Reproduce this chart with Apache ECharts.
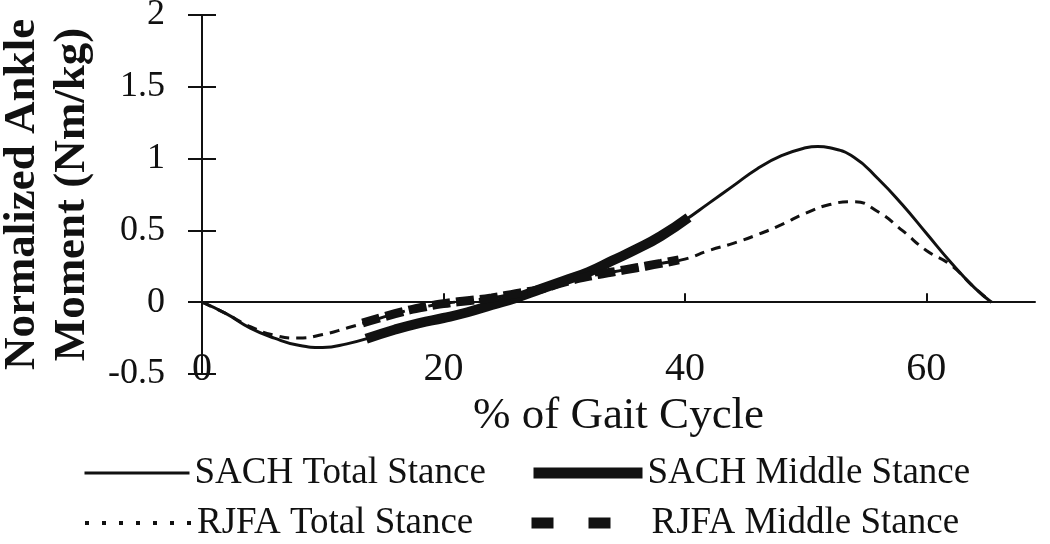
<!DOCTYPE html>
<html>
<head>
<meta charset="utf-8">
<script src="https://cdn.jsdelivr.net/npm/echarts@6/dist/echarts.min.js"></script>
<style>
  html, body { margin: 0; padding: 0; background: #fff; }
  #main { width: 1050px; height: 544px; }
</style>
</head>
<body>
<div id="main"></div>
<script>
// values: [% of gait cycle, moment Nm/kg]
var sachTotal = [
  [0, 0], [2, -0.08], [4, -0.18], [6, -0.25], [8, -0.3], [10, -0.315], [12, -0.29],
  [14, -0.245], [16, -0.19], [18, -0.145], [20, -0.11], [22, -0.07], [24, -0.02],
  [26, 0.03], [28, 0.09], [30, 0.15], [32, 0.21], [34, 0.29], [36, 0.37], [38, 0.46],
  [40, 0.57], [42, 0.69], [44, 0.81], [46, 0.93], [48, 1.02], [50, 1.075], [51, 1.085],
  [52, 1.075], [54, 1.01], [56, 0.86], [58, 0.68], [60, 0.48], [62, 0.28], [64, 0.1], [65.4, 0]
];
var sachMiddle = [
  [13.6, -0.255], [16, -0.19], [18, -0.145], [20, -0.11], [22, -0.07], [24, -0.02],
  [26, 0.03], [28, 0.09], [30, 0.15], [32, 0.21], [34, 0.29], [36, 0.37], [38, 0.46],
  [40.3, 0.59]
];
var rjfaTotal = [
  [0, 0], [2, -0.08], [4, -0.17], [6, -0.23], [8, -0.25], [10, -0.225], [12, -0.18],
  [14, -0.13], [16, -0.08], [18, -0.04], [20, -0.01], [22, 0.01], [24, 0.03],
  [26, 0.06], [28, 0.09], [30, 0.14], [32, 0.18], [34, 0.21], [36, 0.24], [38, 0.27],
  [40, 0.3], [42, 0.36], [44, 0.41], [46, 0.47], [48, 0.54], [50, 0.62], [52, 0.68],
  [54, 0.7], [56, 0.63], [58, 0.5], [60, 0.36], [62, 0.26], [64, 0.1], [65.4, 0]
];
var rjfaMiddle = [
  [13.3, -0.145], [16, -0.08], [18, -0.04], [20, -0.01], [22, 0.01], [24, 0.03],
  [26, 0.06], [28, 0.09], [30, 0.14], [32, 0.18], [34, 0.21], [36, 0.24], [38, 0.27],
  [39.5, 0.295]
];
var xTicks = [0, 20, 40, 60];
var seriesNames = ['SACH Total Stance', 'SACH Middle Stance', 'RJFA Total Stance', 'RJFA Middle Stance'];

var font = 'Liberation Serif';

var chart = echarts.init(document.getElementById('main'));

function legendAt(name, left, top, w, lineStyle) {
  return {
    left: left, top: top, data: [name],
    itemWidth: w, itemHeight: 12,
    lineStyle: lineStyle,
    itemStyle: { opacity: 0 },
    textStyle: { fontFamily: font, fontSize: 37, color: '#111', lineHeight: 40 },
    selectedMode: false
  };
}

var option = {
  animation: false,
  backgroundColor: '#fff',
  grid: { left: 202, right: 15, top: 15, bottom: 170, outerBoundsMode: 'none' },
  legend: [
    legendAt(seriesNames[0], 78, 448, 105, { width: 3, type: 'solid' }),
    legendAt(seriesNames[1], 523, 448, 109, { width: 11, type: 'solid' }),
    legendAt(seriesNames[2], 78, 498, 107, { width: 4, type: [4, 13] }),
    legendAt(seriesNames[3], 521, 498, 115, { width: 11, type: [22, 35, 22, 100] })
  ],
  xAxis: {
    type: 'value', min: 0, max: 69,
    name: '% of Gait Cycle', nameLocation: 'middle', nameGap: 7,
    nameTextStyle: { fontFamily: font, fontSize: 45, color: '#111' },
    axisLine: { onZero: true, lineStyle: { color: '#111', width: 2 } },
    axisTick: { inside: true, length: 9, customValues: xTicks, lineStyle: { color: '#111', width: 2 } },
    axisLabel: { customValues: xTicks, margin: -25, fontFamily: font, fontSize: 40, color: '#111' },
    splitLine: { show: false }
  },
  yAxis: [{
    type: 'value', min: -0.5, max: 2, interval: 0.5,
    name: 'Normalized Ankle\nMoment (Nm/kg)', nameLocation: 'middle', nameGap: 102,
    nameTextStyle: { fontFamily: font, fontSize: 45, fontWeight: 'bold', color: '#111', lineHeight: 50 },
    axisLine: { show: true, onZero: false, lineStyle: { color: '#111', width: 2 } },
    axisTick: { show: true, length: 14, lineStyle: { color: '#111', width: 2 } },
    axisLabel: { margin: 37, fontFamily: font, fontSize: 36, color: '#111' },
    splitLine: { show: false }
  }, {
    type: 'value', min: -0.5, max: 2, interval: 0.5, position: 'left',
    axisLine: { show: false },
    axisTick: { show: true, inside: true, length: 14, lineStyle: { color: '#111', width: 2 } },
    axisLabel: { show: false },
    splitLine: { show: false }
  }],
  series: [{
    name: seriesNames[0], type: 'line', data: sachTotal, smooth: true,
    symbol: 'none', lineStyle: { color: '#111', width: 3 }, itemStyle: { color: '#111' }, z: 2
  }, {
    name: seriesNames[2], type: 'line', data: rjfaTotal, smooth: true,
    symbol: 'none', lineStyle: { color: '#111', width: 3, type: [10, 7] }, itemStyle: { color: '#111' }, z: 2
  }, {
    name: seriesNames[1], type: 'line', data: sachMiddle, smooth: true,
    symbol: 'none', lineStyle: { color: '#111', width: 10 }, itemStyle: { color: '#111' }, z: 3
  }, {
    name: seriesNames[3], type: 'line', data: rjfaMiddle, smooth: true,
    symbol: 'none', lineStyle: { color: '#111', width: 9, type: [18, 6] }, itemStyle: { color: '#111' }, z: 3
  }]
};

chart.setOption(option);
window.onresize = chart.resize;
</script>
</body>
</html>
